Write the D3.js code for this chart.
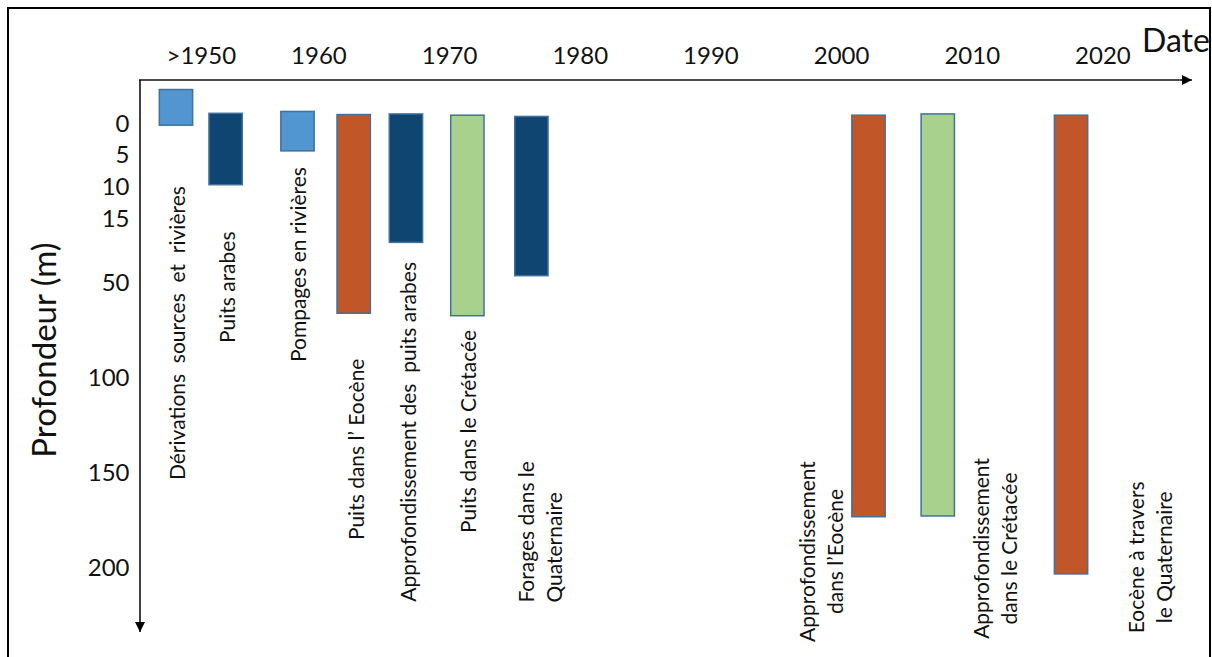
<!DOCTYPE html>
<html>
<head>
<meta charset="utf-8">
<script src="https://cdn.jsdelivr.net/npm/d3@7"></script>
<style>
  html, body { margin: 0; padding: 0; background: #ffffff; }
  svg { display: block; }
  text { font-family: Lato, "Open Sans", sans-serif; fill: #111; }
</style>
</head>
<body>
<svg id="chart" width="1212" height="657"></svg>
<script>
// ---------- data ----------
const yearTicks = [1951, 1960, 1970, 1980, 1990, 2000, 2010, 2020];
const yearTickLabels = [">1950", "1960", "1970", "1980", "1990", "2000", "2010", "2020"];
const depthTicks = [0, 5, 10, 15, 50, 100, 150, 200];

const activities = [
  ["Dérivations  sources  et  rivières"],
  ["Puits arabes"],
  ["Pompages en rivières"],
  ["Puits dans l’ Eocène"],
  ["Approfondissement des  puits arabes"],
  ["Puits dans le Crétacée"],
  ["Forages dans le", "Quaternaire"],
  ["Approfondissement", "dans l’Eocène"],
  ["Approfondissement", "dans le Crétacée"],
  ["Eocène à travers", "le Quaternaire"]
];
const activityYears = [1949.1, 1952.9, 1958.4, 1962.7, 1966.7, 1971.4, 1976.3, 2002.1, 2007.4, 2017.6];
const depthTop     = [-5.3, -1.5, -1.8, -1.3, -1.4, -1.2, -1.0, -1.2, -1.4, -1.2];
const depthBottom  = [0.4, 9.8, 4.5, 66.6, 28.4, 67.9, 46.7, 173.7, 173.3, 203.8];
const resource = ["Surface", "Quaternaire", "Surface", "Eocène", "Quaternaire",
                  "Crétacé", "Quaternaire", "Eocène", "Crétacé", "Eocène"];
const resourceNames = ["Surface", "Quaternaire", "Eocène", "Crétacé"];

// label anchors in data units (year, depth)
const labelYears  = [1949.1, 1952.9, 1958.4, 1962.8, 1966.8, 1971.4, 1976.9, 1998.4, 2011.7, 2023.6];
const labelDepths = [154.4, 82.3, 92.3, 186.0, 218.4, 182.3, 218.9, 192.0, 190.4, 195.1];
const labelAlign  = ["start", "start", "start", "start", "start", "start", "start", "middle", "middle", "middle"];

// ---------- layout / styles ----------
const W = 1212, H = 657;
const colors = ["#5195D1", "#0F4571", "#C15628", "#A9D18E"];
const barWidthYears = 2.55;
const axisX = 140, axisY = 80;

const svg = d3.select("#chart");

const x = d3.scaleLinear().domain([1960, 2020]).range([318.4, 1102.4]);
const y = d3.scaleLinear().domain(depthTicks)
  .range([122.7, 154, 186, 218, 281.7, 376.7, 471.7, 566.7]);
const color = d3.scaleOrdinal().domain(resourceNames).range(colors);

// outer frame
svg.append("rect")
  .attr("x", 8).attr("y", 8).attr("width", 1202).attr("height", 680)
  .attr("fill", "none").attr("stroke", "#000").attr("stroke-width", 2);

// arrow markers
const defs = svg.append("defs");
defs.append("marker")
  .attr("id", "arrow").attr("viewBox", "0 0 10 10")
  .attr("refX", 10).attr("refY", 5)
  .attr("markerWidth", 11).attr("markerHeight", 10)
  .attr("markerUnits", "userSpaceOnUse")
  .attr("orient", "auto")
  .append("path").attr("d", "M0,0 L10,5 L0,10 Z").attr("fill", "#000");

// axes lines
svg.append("line")
  .attr("x1", axisX - 1).attr("y1", axisY).attr("x2", 1192).attr("y2", axisY)
  .attr("stroke", "#111").attr("stroke-width", 1.6).attr("marker-end", "url(#arrow)");
svg.append("line")
  .attr("x1", axisX).attr("y1", axisY).attr("x2", axisX).attr("y2", 632)
  .attr("stroke", "#111").attr("stroke-width", 1.6).attr("marker-end", "url(#arrow)");

// top year axis
const topAxis = d3.axisTop(x)
  .tickValues(yearTicks)
  .tickSize(0).tickPadding(16)
  .tickFormat((d, i) => yearTickLabels[i]);
svg.append("g")
  .attr("transform", `translate(0,${axisY})`)
  .call(topAxis)
  .call(g => g.select(".domain").remove())
  .call(g => g.selectAll("text")
    .style("font-family", "Lato, 'Open Sans', sans-serif")
    .style("font-size", "24px").attr("fill", "#111"));

// left depth axis
const leftAxis = d3.axisLeft(y)
  .tickValues(depthTicks)
  .tickSize(0).tickPadding(10.5)
  .tickFormat(d3.format("d"));
svg.append("g")
  .attr("transform", `translate(${axisX},0)`)
  .call(leftAxis)
  .call(g => g.select(".domain").remove())
  .call(g => g.selectAll("text")
    .attr("dy", "0.36em")
    .style("font-family", "Lato, 'Open Sans', sans-serif")
    .style("font-size", "24px").attr("fill", "#111"));

// axis titles
svg.append("text")
  .attr("x", 1142).attr("y", 52)
  .style("font-size", "32px")
  .text("Date");
svg.append("text")
  .attr("transform", "translate(43,350) rotate(-90)")
  .attr("text-anchor", "middle").attr("dominant-baseline", "central")
  .style("font-size", "33px")
  .text("Profondeur (m)");

// bars
const idx = d3.range(activities.length);
svg.append("g").selectAll("rect")
  .data(idx).join("rect")
  .attr("x", i => x(activityYears[i] - barWidthYears / 2))
  .attr("width", i => x(activityYears[i] + barWidthYears / 2) - x(activityYears[i] - barWidthYears / 2))
  .attr("y", i => y(depthTop[i]))
  .attr("height", i => y(depthBottom[i]) - y(depthTop[i]))
  .attr("fill", i => color(resource[i]))
  .attr("stroke", "#41719C").attr("stroke-width", 1.5);

// rotated labels
const lineGap = 28;
const lab = svg.append("g").selectAll("g")
  .data(idx).join("g")
  .attr("transform", i => `translate(${x(labelYears[i])},${y(labelDepths[i])}) rotate(-90)`);
lab.each(function(i) {
  const lines = activities[i];
  const n = lines.length;
  const t = d3.select(this).append("text")
    .attr("text-anchor", labelAlign[i])
    .attr("dominant-baseline", "central")
    .attr("xml:space", "preserve")
    .style("white-space", "pre")
    .style("font-size", "21px");
  lines.forEach((ln, k) => {
    t.append("tspan")
      .attr("x", 0)
      .attr("y", (k - (n - 1) / 2) * lineGap)
      .text(ln);
  });
});
</script>
</body>
</html>
